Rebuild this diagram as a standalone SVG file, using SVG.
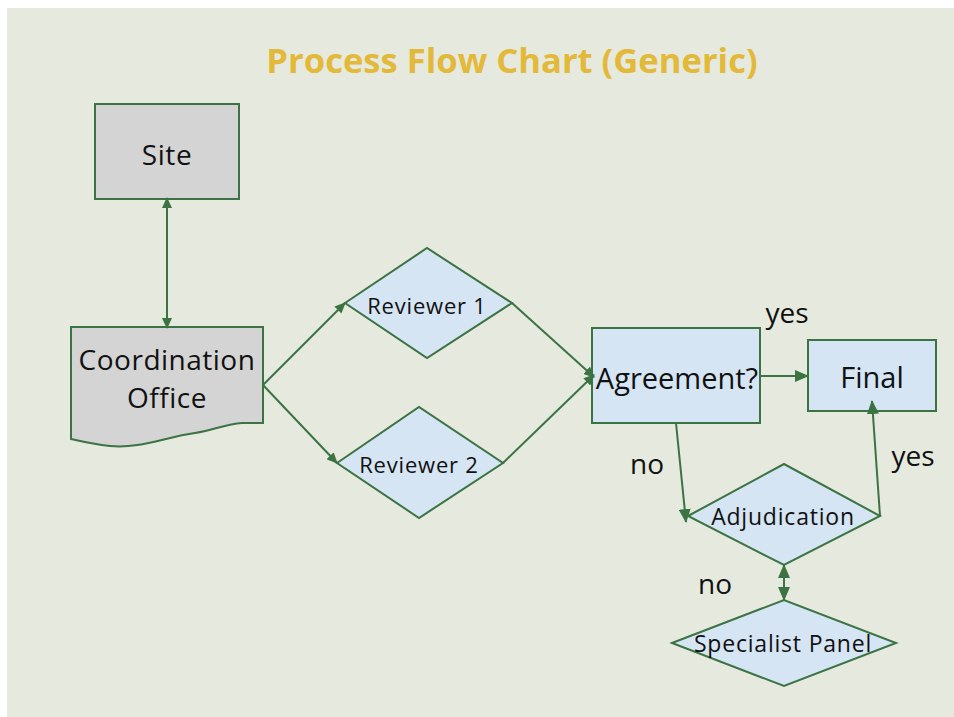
<svg xmlns="http://www.w3.org/2000/svg" width="954" height="717" viewBox="0 0 954 717">
<defs>
<style>
.bg{fill:#e6e9de}
.gray{fill:#d4d4d4;stroke:#3b7343;stroke-width:2}
.blue{fill:#d5e5f3;stroke:#3b7343;stroke-width:2}
.edge{fill:none;stroke:#3b7343;stroke-width:2}
.t{font-family:"Open Sans","Noto Sans",sans-serif;fill:#111;text-anchor:middle}
.lbl{font-family:"Open Sans","Noto Sans",sans-serif;fill:#111;font-size:28px;text-anchor:middle}
.title{font-family:"Open Sans","Noto Sans",sans-serif;font-weight:bold;fill:#e3b93a;font-size:34.6px;text-anchor:middle}
</style>
<marker id="ah" markerWidth="14" markerHeight="12" refX="13" refY="6" orient="auto-start-reverse" markerUnits="userSpaceOnUse">
<path d="M0,0 L14,6 L0,12 Z" fill="#3b7343"/>
</marker>
<marker id="as" markerWidth="11" markerHeight="10" refX="10" refY="5" orient="auto-start-reverse" markerUnits="userSpaceOnUse">
<path d="M0,0 L11,5 L0,10 Z" fill="#3b7343"/>
</marker>
</defs>
<rect x="0" y="0" width="954" height="717" fill="#ffffff"/>
<rect class="bg" x="7" y="8" width="947" height="709"/>
<text class="title" x="512" y="73">Process Flow Chart (Generic)</text>

<g id="site">
<rect class="gray" x="95" y="104" width="144" height="95"/>
<text class="t" x="167" y="165" font-size="28" letter-spacing="0.6">Site</text>
</g>

<g id="coordination-office">
<path class="gray" d="M71,327 H263 V423 H242 C225,424 215,430 195,433 C165,437 140,449 110,446 C92,444 80,441 71,439 Z"/>
<text class="t" x="167" y="370" font-size="28" letter-spacing="0.5">Coordination</text>
<text class="t" x="167" y="408" font-size="28" letter-spacing="0.5">Office</text>
</g>

<g id="reviewer1">
<polygon class="blue" points="345,303 427,248 512,303 427,358"/>
<text class="t" x="427" y="314" font-size="22" letter-spacing="0.8">Reviewer 1</text>
</g>

<g id="reviewer2">
<polygon class="blue" points="337,463 419,407 503,463 419,518"/>
<text class="t" x="419" y="473" font-size="22" letter-spacing="0.8">Reviewer 2</text>
</g>

<g id="agreement">
<rect class="blue" x="592" y="328" width="168" height="95"/>
<text class="t" x="677" y="389" font-size="29">Agreement?</text>
</g>

<g id="final">
<rect class="blue" x="808" y="340" width="128" height="71"/>
<text class="t" x="872" y="388" font-size="29">Final</text>
</g>

<g id="adjudication">
<polygon class="blue" points="688,516 784,464 880,516 784,565"/>
<text class="t" x="783" y="525" font-size="23" letter-spacing="0.8">Adjudication</text>
</g>

<g id="specialist-panel">
<polygon class="blue" points="672,643 784,600 896,643 784,686"/>
<text class="t" x="783" y="652" font-size="23" letter-spacing="0.8">Specialist Panel</text>
</g>

<g id="connectors">
<line class="edge" x1="167" y1="198" x2="167" y2="328" marker-start="url(#as)" marker-end="url(#as)"/>
<line class="edge" x1="263" y1="385" x2="345" y2="303" marker-end="url(#as)"/>
<line class="edge" x1="263" y1="385" x2="337" y2="463" marker-end="url(#as)"/>
<line class="edge" x1="512" y1="303" x2="594" y2="377" marker-end="url(#as)"/>
<line class="edge" x1="503" y1="463" x2="594" y2="375" marker-end="url(#as)"/>
<line class="edge" x1="760" y1="376" x2="808" y2="376" marker-end="url(#ah)"/>
<line class="edge" x1="676" y1="423" x2="686" y2="522" marker-end="url(#ah)"/>
<line class="edge" x1="880" y1="516" x2="872" y2="401" marker-end="url(#ah)"/>
<line class="edge" x1="784" y1="565" x2="784" y2="600" marker-start="url(#ah)" marker-end="url(#ah)"/>
<text class="lbl" x="787" y="323">yes</text>
<text class="lbl" x="647" y="474">no</text>
<text class="lbl" x="913" y="466">yes</text>
<text class="lbl" x="715" y="594">no</text>
</g>
</svg>
